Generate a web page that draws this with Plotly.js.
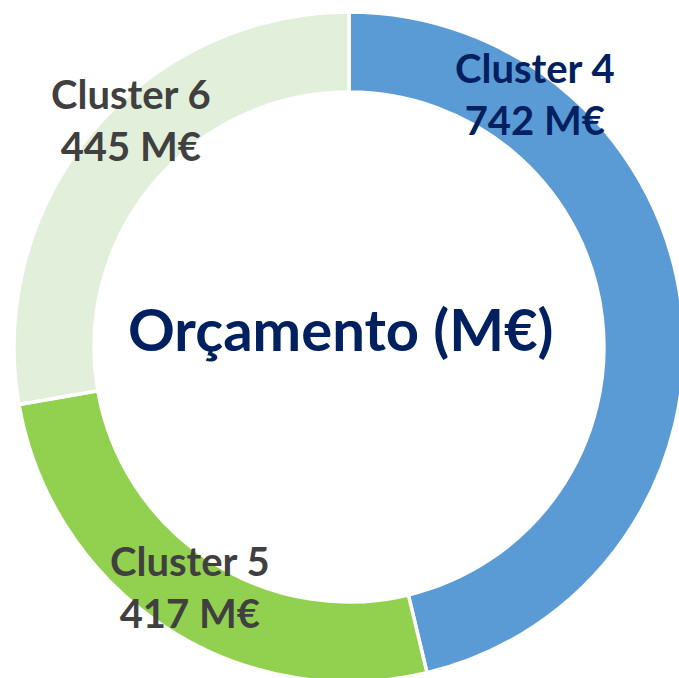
<!DOCTYPE html>
<html>
<head>
<meta charset="utf-8">
<script src="https://cdn.plot.ly/plotly-3.0.1.min.js"></script>
<style>
html,body{margin:0;padding:0;overflow:hidden;background:#fff;}
#chart{width:700px;height:700px;}
</style>
</head>
<body>
<div id="chart"></div>
<script>
const categories = ["Cluster 4", "Cluster 5", "Cluster 6"];
const values = [742, 417, 445];
const unit = "M€";
const centerTitle = "Orçamento (M€)";

const W = 700, H = 700;
const sliceColors = ["#5B9BD5", "#92D050", "#E2EFDA"];
const labelColors = ["#002060", "#404040", "#404040"];
// label anchor positions in pixels (from top-left)
const labelPos = [[535, 94], [190, 587], [131, 120]];

const px = (x) => x / W;
const py = (y) => 1 - y / H;

const trace = {
  type: "pie",
  labels: categories,
  values: values,
  hole: 0.761,
  sort: false,
  direction: "clockwise",
  rotation: 0,
  textinfo: "none",
  hoverinfo: "label+value",
  marker: { colors: sliceColors, line: { color: "#FFFFFF", width: 3.5 } },
  domain: { x: [px(14), px(684)], y: [py(682), py(12)] },
  showlegend: false
};

const annotations = categories.map((c, i) => ({
  xref: "paper", yref: "paper",
  x: px(labelPos[i][0]), y: py(labelPos[i][1]),
  xanchor: "center", yanchor: "middle",
  text: "<b>" + c + "<br>" + values[i] + " " + unit + "</b>",
  showarrow: false,
  align: "center",
  font: { family: "Lato, 'Open Sans', sans-serif", size: 40, color: labelColors[i] }
}));
annotations.push({
  xref: "paper", yref: "paper",
  x: px(341), y: py(328),
  xanchor: "center", yanchor: "middle",
  text: "<b>" + centerTitle + "</b>",
  showarrow: false,
  font: { family: "Lato, 'Open Sans', sans-serif", size: 58, color: "#002060" }
});

Plotly.newPlot("chart", [trace], {
  width: W, height: H,
  margin: { l: 0, r: 0, t: 0, b: 0, pad: 0 },
  paper_bgcolor: "#FFFFFF",
  annotations: annotations
}, { displayModeBar: false, staticPlot: true });
</script>
</body>
</html>
